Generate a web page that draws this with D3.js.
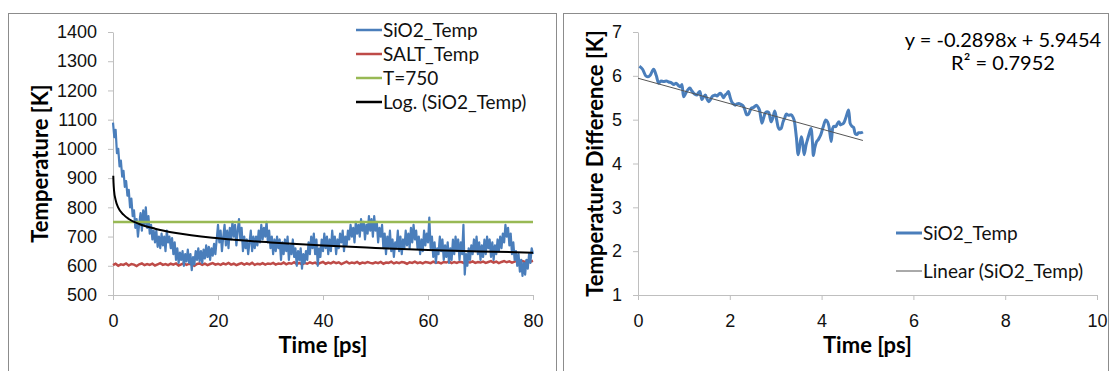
<!DOCTYPE html>
<html>
<head>
<meta charset="utf-8">
<script src="https://cdn.jsdelivr.net/npm/d3@7"></script>
<style>
  body { margin: 0; background: #fff; }
  svg { display: block; font-family: Lato, "Open Sans", sans-serif; }
  .tick text { font-size: 18px; fill: #111; }
  .axis path, .axis line { stroke: #bfbfbf; }
</style>
</head>
<body>
<svg id="vis" width="1112" height="371"></svg>
<script>
// ---- data ----
// left panel: SiO2 temperature sampled every 0.25 ps, 0..80 ps
const sio2Step = 0.25;
const sio2Temp = [
  1090,1040,1065,985, 1000,940,960,905, 925,870,890,840, 860,800,830,770,
  790,730,760,700, 745,780,720,790, 740,800,730,770, 710,740,690,720,
  680,720,665,700, 660,710,670,700, 650,720,680,700, 660,695,640,680,
  620,660,610,645, 620,650,600,640, 615,655,610,640, 585,630,605,650,
  620,660,615,650, 610,655,625,670, 630,665,620,660, 635,675,640,690,
  740,680,720,650, 700,740,670,720, 660,730,690,750, 700,740,670,720,
  760,690,730,650, 700,660,690,640, 680,720,650,700, 660,700,670,720,
  680,740,690,730, 700,750,680,720, 660,700,640,690, 650,700,660,690,
  620,680,640,690, 650,700,620,670, 640,690,630,660, 600,650,620,660,
  590,640,610,650, 620,680,640,700, 660,710,640,690, 600,660,630,690,
  650,710,660,700, 640,690,650,720, 670,700,640,690, 660,710,680,720,
  650,700,670,720, 690,740,700,730, 680,750,710,740, 700,760,720,750,
  690,740,710,770, 720,760,700,770, 720,750,680,730, 700,740,660,710,
  640,700,660,720, 650,690,630,680, 660,720,650,700, 640,690,660,720,
  670,710,660,730, 680,740,690,720, 660,700,640,690, 650,720,670,710,
  680,765,660,700, 630,680,610,660, 640,700,650,690, 620,670,630,680,
  610,660,620,690, 640,700,650,690, 620,680,640,740, 570,640,600,660,
  620,670,640,690, 650,700,640,680, 620,670,630,690, 640,700,660,690,
  630,680,620,670, 640,690,650,700, 660,710,680,740, 700,730,670,710,
  640,680,620,650, 600,640,580,620, 565,610,570,620, 590,640,610,660,
  640
];
// SALT temperature sampled every 0.5 ps
const saltStep = 0.5;
const saltTemp = [
  602,607,600,605,603,608,601,606,604,599,605,608,602,606,603,607,601,605,609,603,606,
  602,607,604,608,601,605,609,603,607,604,600,606,608,603,607,602,606,609,604,607,
  603,608,605,610,604,607,602,606,609,604,608,605,610,603,607,605,609,604,608,606,
  610,604,608,606,611,605,609,607,612,606,610,605,609,607,612,608,611,606,610,613,
  607,611,608,613,609,612,606,610,614,608,611,609,613,607,611,609,613,610,608,612,
  609,613,607,611,610,614,608,612,609,613,611,607,612,610,614,609,612,608,613,611,
  609,614,610,612,608,613,611,615,609,613,610,614,612,608,613,611,615,610,613,611,
  614,610,613,616,611,614,609,613,616,612,615,611,614,617,612,616,613,618,614,617
];
const refTime = [0, 80];
const refTemp = [750, 750];
// logarithmic trendline
const logTime = [0.05,0.1,0.2,0.5,1,2,3,5,8,12,20,30,40,50,60,70,80];
const logTemp = [908,884,857,825,799,775,760,743,727,712,694,680,669,661,654,649,645];

const leftLegend = ["SiO2_Temp", "SALT_Temp", "T=750", "Log. (SiO2_Temp)"];
const leftColors = ["#4a7ebb", "#be4b48", "#98b954", "#000000"];
const leftYTicks = [500,600,700,800,900,1000,1100,1200,1300,1400];
const leftXTicks = [0,20,40,60,80];

// right panel: temperature difference
const diffTime = [0.03,0.1,0.17,0.22,0.27,0.34,0.4,0.45,0.5,0.56,0.62,0.67,0.73,0.78,0.83,0.88,0.92,0.96,0.99,
  1.03,1.06,1.1,1.13,1.17,1.2,1.24,1.28,1.32,1.35,1.39,1.43,1.47,1.5,1.54,1.58,1.61,1.65,1.68,1.72,1.76,1.79,
  1.83,1.86,1.9,1.94,1.97,2.01,2.04,2.08,2.12,2.16,2.19,2.24,2.3,2.33,2.37,2.4,2.44,2.47,2.52,2.58,2.62,2.65,
  2.7,2.74,2.77,2.81,2.85,2.9,2.94,2.98,3.02,3.05,3.09,3.12,3.16,3.2,3.23,3.28,3.34,3.38,3.41,3.45,3.49,3.53,
  3.56,3.59,3.62,3.66,3.7,3.74,3.77,3.8,3.82,3.85,3.88,3.93,3.98,4.03,4.09,4.13,4.16,4.21,4.24,4.27,4.31,4.34,
  4.38,4.41,4.45,4.48,4.53,4.59,4.62,4.66,4.7,4.73,4.77,4.8,4.85,4.9];
const diffTemp = [6.22,6.15,6.0,5.98,6.02,6.15,6.0,5.83,5.88,5.87,5.88,5.86,5.84,5.8,5.83,5.78,5.75,5.8,5.52,
  5.58,5.64,5.7,5.72,5.66,5.62,5.58,5.56,5.62,5.64,5.46,5.52,5.56,5.48,5.41,5.46,5.52,5.55,5.56,5.54,5.58,5.6,
  5.56,5.5,5.56,5.6,5.64,5.5,5.41,5.36,5.33,5.36,5.37,5.35,5.3,5.22,5.11,5.11,5.2,5.26,5.28,5.33,5.28,5.21,
  4.92,5.05,5.15,5.18,5.16,4.95,5.05,5.2,5.0,4.84,4.78,4.8,4.95,5.05,5.13,5.1,5.11,5.05,4.95,4.6,4.2,4.45,
  4.61,4.45,4.2,4.42,4.57,4.72,4.8,4.5,4.18,4.35,4.47,4.55,4.65,4.82,4.99,4.95,4.85,4.5,4.8,4.85,4.84,4.9,
  4.95,4.88,4.9,4.92,5.05,5.22,4.92,4.85,4.82,4.68,4.66,4.7,4.7,4.72];
const fitSlope = -0.2898, fitIntercept = 5.9454, fitR2 = 0.7952;
const fitTime = [0, 4.9];
const rightLegend = ["SiO2_Temp", "Linear (SiO2_Temp)"];
const rightYTicks = [1,2,3,4,5,6,7];
const rightXTicks = [0,2,4,6,8,10];

const svg = d3.select("#vis");

// panel frames
svg.append("rect").attr("x", 8.5).attr("y", 13.5).attr("width", 548).attr("height", 380)
  .attr("fill", "none").attr("stroke", "#8c8c8c");
svg.append("rect").attr("x", 563.5).attr("y", 13.5).attr("width", 545).attr("height", 380)
  .attr("fill", "none").attr("stroke", "#8c8c8c");

function axes(g, x, y, xt, yt) {
  const ax = g.append("g").attr("class", "axis").attr("transform", `translate(0,${y.range()[0]})`)
    .call(d3.axisBottom(x).tickValues(xt).tickFormat(d3.format("d")).tickSize(5).tickPadding(14).tickSizeOuter(0));
  const ay = g.append("g").attr("class", "axis").attr("transform", `translate(${x.range()[0]},0)`)
    .call(d3.axisLeft(y).tickValues(yt).tickFormat(d3.format("d")).tickSize(5).tickPadding(11).tickSizeOuter(0));
  [ax, ay].forEach(a => a.select(".domain").attr("stroke", "#bfbfbf"));
}

// ---- left chart ----
const xL = d3.scaleLinear().domain([0, 80]).range([113, 533]);
const yL = d3.scaleLinear().domain([500, 1400]).range([295, 32]);
const gL = svg.append("g");
axes(gL, xL, yL, leftXTicks, leftYTicks);

const lineL = d3.line().x(d => xL(d[0])).y(d => yL(d[1]));
gL.append("path").datum(saltTemp.map((v, i) => [i * saltStep, v]))
  .attr("d", lineL).attr("fill", "none").attr("stroke", leftColors[1]).attr("stroke-width", 2.5);
gL.append("path").datum(sio2Temp.map((v, i) => [i * sio2Step, v]))
  .attr("d", lineL).attr("fill", "none").attr("stroke", leftColors[0]).attr("stroke-width", 2.2)
  .attr("stroke-linejoin", "round");
gL.append("path").datum(refTime.map((t, i) => [t, refTemp[i]]))
  .attr("d", lineL).attr("fill", "none").attr("stroke", leftColors[2]).attr("stroke-width", 2.5);
gL.append("path").datum(logTime.map((t, i) => [t, logTemp[i]]))
  .attr("d", lineL.curve(d3.curveMonotoneX)).attr("fill", "none").attr("stroke", leftColors[3]).attr("stroke-width", 2);

const legL = gL.append("g").selectAll("g").data(leftLegend).join("g")
  .attr("transform", (d, i) => `translate(356,${30 + i * 24})`);
legL.append("line").attr("x1", 0).attr("x2", 26).attr("stroke", (d, i) => leftColors[i]).attr("stroke-width", 2.5);
legL.append("text").attr("x", 27).attr("dy", "0.35em").attr("font-size", 19).attr("fill", "#111").text(d => d);

gL.append("text").attr("x", xL(40)).attr("y", 353).attr("text-anchor", "middle")
  .attr("font-size", 22).attr("font-weight", "bold").text("Time [ps]");
gL.append("text").attr("transform", `translate(48,${yL(950)}) rotate(-90)`).attr("text-anchor", "middle")
  .attr("font-size", 22).attr("font-weight", "bold").text("Temperature [K]");

// ---- right chart ----
const xR = d3.scaleLinear().domain([0, 10]).range([638, 1097]);
const yR = d3.scaleLinear().domain([1, 7]).range([295, 32]);
const gR = svg.append("g");
axes(gR, xR, yR, rightXTicks, rightYTicks);

const lineR = d3.line().x(d => xR(d[0])).y(d => yR(d[1])).curve(d3.curveMonotoneX);
gR.append("path").datum(diffTime.map((t, i) => [t, diffTemp[i]]))
  .attr("d", lineR).attr("fill", "none").attr("stroke", "#4a7ebb").attr("stroke-width", 3)
  .attr("stroke-linejoin", "round");
gR.append("path").datum(fitTime.map(t => [t, fitSlope * t + fitIntercept]))
  .attr("d", d3.line().x(d => xR(d[0])).y(d => yR(d[1]))).attr("fill", "none")
  .attr("stroke", "#555").attr("stroke-width", 1);

gR.append("text").attr("x", 1003).attr("y", 47).attr("text-anchor", "middle").attr("font-size", 20)
  .text(`y = ${fitSlope}x + ${fitIntercept}`);
gR.append("text").attr("x", 1003).attr("y", 70).attr("text-anchor", "middle").attr("font-size", 20)
  .text(`R² = ${fitR2}`);

const legR = gR.append("g").selectAll("g").data(rightLegend).join("g")
  .attr("transform", (d, i) => `translate(896,${233 + i * 38})`);
legR.append("line").attr("x1", 0).attr("x2", 26).attr("stroke", (d, i) => i ? "#555" : "#4a7ebb")
  .attr("stroke-width", (d, i) => i ? 1 : 3);
legR.append("text").attr("x", 27).attr("dy", "0.35em").attr("font-size", 19).attr("fill", "#111").text(d => d);

gR.append("text").attr("x", xR(5)).attr("y", 353).attr("text-anchor", "middle")
  .attr("font-size", 22).attr("font-weight", "bold").text("Time [ps]");
gR.append("text").attr("transform", `translate(603,${yR(4)}) rotate(-90)`).attr("text-anchor", "middle")
  .attr("font-size", 22).attr("font-weight", "bold").text("Temperature Difference [K]");
</script>
</body>
</html>
